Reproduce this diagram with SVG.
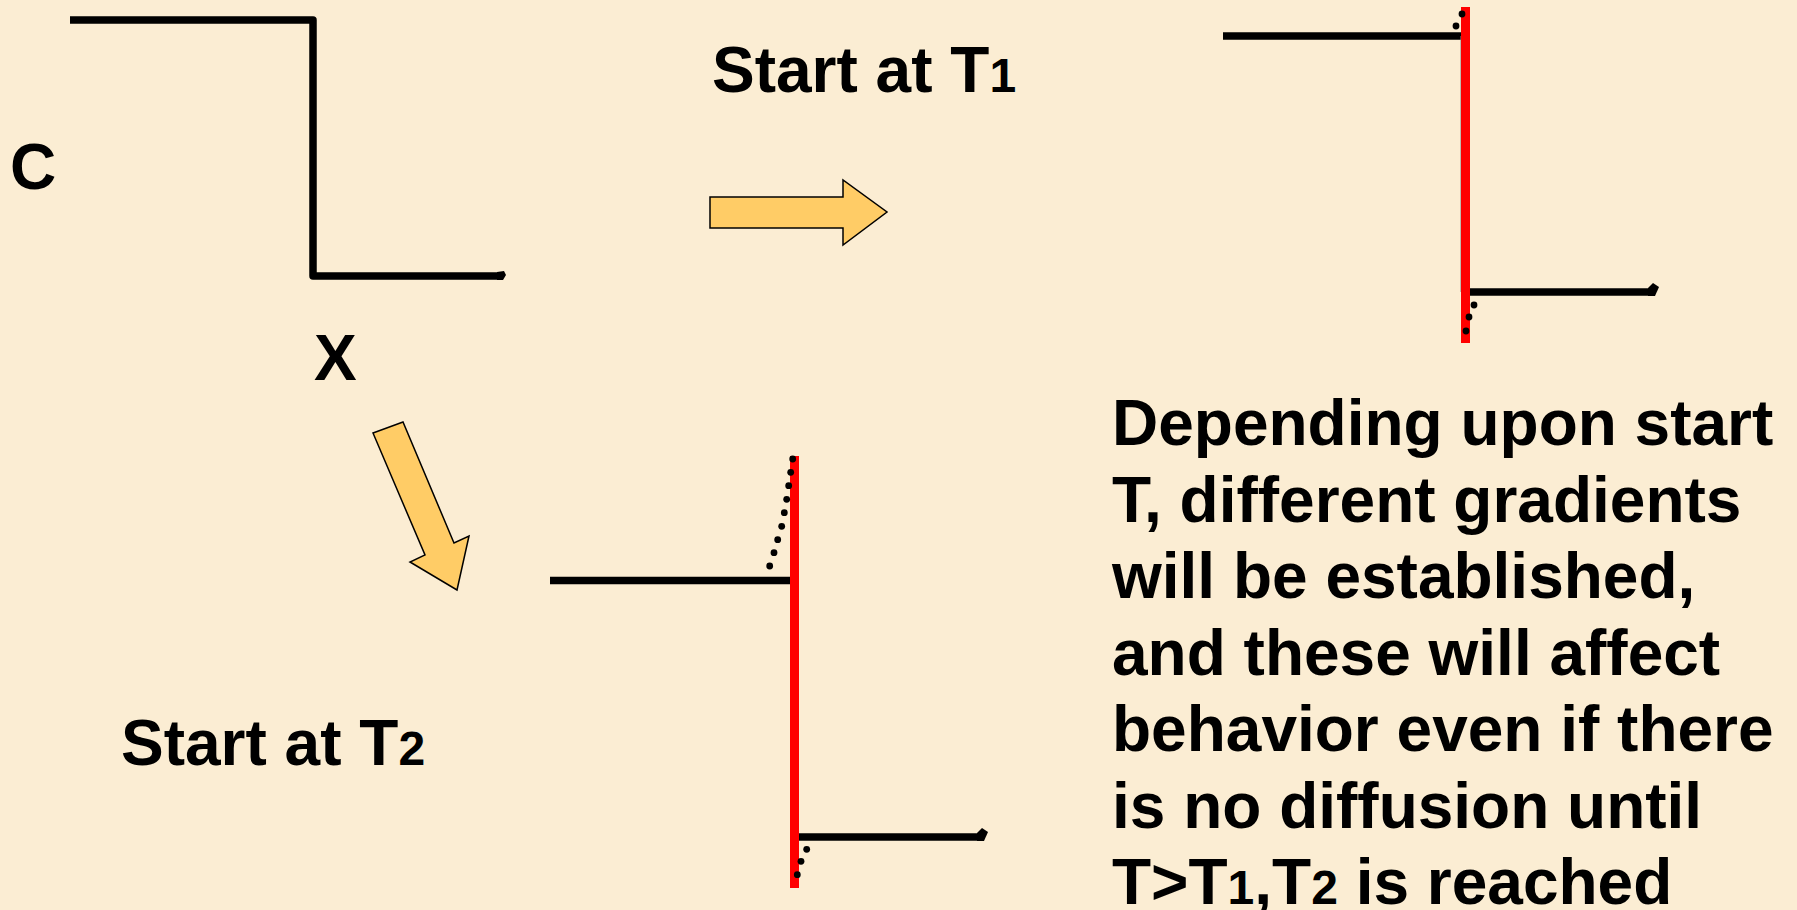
<svg xmlns="http://www.w3.org/2000/svg" width="1797" height="910" viewBox="0 0 1797 910">
  <style>
    .lbl { font-family: "Liberation Sans", Arial, sans-serif; font-weight: bold; font-size: 64px; fill: #000; }
    .sub { font-size: 48px; }
    .step { fill: none; stroke: #000; stroke-width: 7.5; stroke-linejoin: round; }
    .front { stroke: #FF0000; stroke-width: 9; }
    .dot { fill: #000; }
    .block { fill: #FFCC66; stroke: #000; stroke-width: 1.5; stroke-linejoin: miter; }
  </style>
  <defs>
    <circle id="d" r="3.4" class="dot"/>
  </defs>

  <!-- parchment background -->
  <rect x="0" y="0" width="1797" height="910" fill="#FBEDD3"/>

  <!-- initial step profile C(x) -->
  <g id="profile-initial">
    <path class="step" d="M70,20 H313 V276 H500"/>
    <path d="M497,272 L504,271 L506,275 L503,280 L497,280 Z" fill="#000"/>
    <text class="lbl" x="10" y="189">C</text>
    <text class="lbl" x="314" y="380">X</text>
  </g>

  <!-- profile frozen at T1 -->
  <g id="profile-t1">
    <path class="step" d="M1223,36 H1465"/>
    <path class="step" d="M1470,292 H1652"/>
    <path d="M1648,288 L1653,283 L1659,287 L1655,296 L1648,296 Z" fill="#000"/>
    <line x1="1461" y1="36" x2="1461" y2="292" stroke="#888" stroke-width="1"/>
    <line class="front" x1="1465.5" y1="7" x2="1465.5" y2="343"/>
    <use href="#d" x="1462" y="14"/>
    <use href="#d" x="1456" y="26"/>
    <use href="#d" x="1474" y="305"/>
    <use href="#d" x="1469" y="317"/>
    <use href="#d" x="1466" y="331"/>
  </g>

  <!-- profile frozen at T2 -->
  <g id="profile-t2">
    <path class="step" d="M550,580.5 H792"/>
    <path class="step" d="M799,837 H980"/>
    <path d="M977,833 L982,828 L988,832 L984,841 L977,841 Z" fill="#000"/>
    <line class="front" x1="794.5" y1="456" x2="794.5" y2="888"/>
    <use href="#d" x="792.7" y="459"/>
    <use href="#d" x="790.7" y="472.3"/>
    <use href="#d" x="788.7" y="485.7"/>
    <use href="#d" x="786.7" y="499.3"/>
    <use href="#d" x="784.3" y="512.7"/>
    <use href="#d" x="781.7" y="526.3"/>
    <use href="#d" x="777.7" y="539.7"/>
    <use href="#d" x="774" y="552.7"/>
    <use href="#d" x="769.7" y="566"/>
    <use href="#d" x="806.7" y="849.3"/>
    <use href="#d" x="801" y="861.3"/>
    <use href="#d" x="797.3" y="874.7"/>
  </g>

  <!-- block arrows linking the profiles -->
  <g id="connectors">
    <polygon class="block" points="710,197 843,197 843,180 887,212 843,245 843,228 710,228"/>
    <polygon class="block" points="373,433 403,422 454,543 469,536 457,590 410,562 425,555"/>
  </g>

  <g id="label-t1">
    <text class="lbl" x="712" y="92">Start at T<tspan class="sub">1</tspan></text>
  </g>
  <g id="label-t2">
    <text class="lbl" x="121" y="765">Start at T<tspan class="sub">2</tspan></text>
  </g>

  <g id="note">
    <text class="lbl" x="1112" y="445">Depending upon start</text>
    <text class="lbl" x="1112" y="521.5">T, different gradients</text>
    <text class="lbl" x="1112" y="598">will be established,</text>
    <text class="lbl" x="1112" y="674.5">and these will affect</text>
    <text class="lbl" x="1112" y="751">behavior even if there</text>
    <text class="lbl" x="1112" y="827.5">is no diffusion until</text>
    <text class="lbl" x="1112" y="904">T&gt;T<tspan class="sub">1</tspan>,T<tspan class="sub">2</tspan> is reached</text>
  </g>
</svg>
